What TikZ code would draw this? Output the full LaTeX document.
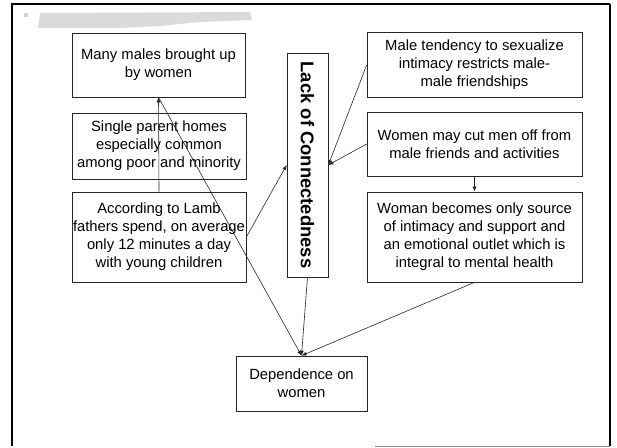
\documentclass[tikz,border=0pt]{standalone}
\usepackage{fontspec}
\setmainfont{Liberation Sans}
\usetikzlibrary{arrows.meta}
\begin{document}
\begin{tikzpicture}[x=1pt,y=-1pt,
  box/.style={draw=black!85,line width=0.7pt,align=center,inner sep=0pt,
    font=\fontsize{14.8}{18}\selectfont},
  arr/.style={draw=black!85,line width=0.6pt,-{Latex[length=5pt,width=4pt]}}]
\useasboundingbox (0,0) rectangle (617,447);
% frame
\draw[line width=1.6pt] (12,446) -- (12,4) -- (610,4);
\draw[line width=1.2pt] (610,4) -- (610,446);
\draw[line width=0.8pt,black!45] (375,446) -- (610,446);
% faded title smudge
\fill[black!14] (40,13) -- (250,12) -- (252,20) -- (200,22) -- (160,26) -- (120,28) -- (38,28) -- cycle;
\fill[black!18] (24,13) rectangle (28,17);
% boxes
\node[box,minimum width=173pt,minimum height=64pt] (b1) at (158.5,65) {Many males brought up\\by women};
\node[box,minimum width=174pt,minimum height=66pt] (b2) at (159,146) {Single parent homes\\especially common\\among poor and minority};
\node[box,minimum width=174pt,minimum height=90pt] (b3) at (159,237) {According to Lamb\\fathers spend, on average\\only 12 minutes a day\\with young children};
\node[draw=black!85,line width=0.7pt,minimum width=41pt,minimum height=224pt,inner sep=0pt] (lack) at (307.5,165) {};
\node[rotate=-90,font=\fontsize{18.4}{20}\bfseries\selectfont,inner sep=0pt] (lacktext) at (lack.center) {Lack of Connectedness};
\node[box,minimum width=215pt,minimum height=65pt] (m1) at (474.5,65) {Male tendency to sexualize\\intimacy restricts male-\\male friendships};
\node[box,minimum width=215pt,minimum height=64pt] (m2) at (474.5,144) {Women may cut men off from\\male friends and activities};
\node[box,minimum width=215pt,minimum height=90pt] (m3) at (474.5,237) {Woman becomes only source\\of intimacy and support and\\an emotional outlet which is\\integral to mental health};
\node[box,minimum width=131pt,minimum height=55pt] (dep) at (301.5,383.5) {Dependence on\\women};
% connectors
\draw[arr] (b3.north) -- (b1.south);
\draw[arr] (b1.south) -- (dep.north);
\draw[arr] (b3.east) -- (lack.west);
\draw[arr] (m1.west) -- (lack.east);
\draw[arr] (m2.west) -- (lack.east);
\draw[arr] (m2.south) -- (m3.north);
\draw[arr] (lack.south) -- (dep.north);
\draw[arr] (m3.south) -- (dep.north);
\end{tikzpicture}
\end{document}
